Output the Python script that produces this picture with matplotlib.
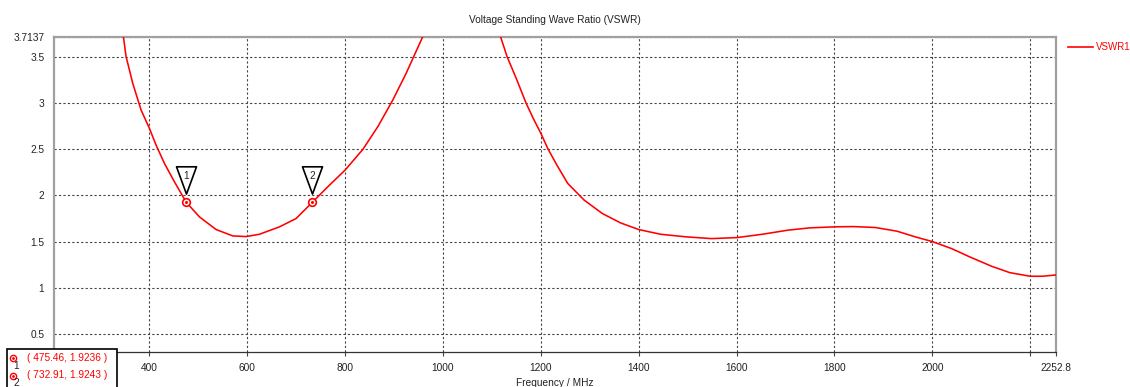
import numpy as np
import matplotlib
matplotlib.use("Agg")
import matplotlib.pyplot as plt
from matplotlib.lines import Line2D
from matplotlib.patches import Rectangle
from matplotlib.path import Path

# ── data ─────────────────────────────────────────────────────────────────────
freq_mhz = [330, 346.8, 352.3, 365.9, 383, 400, 413.6, 430.7, 451.1, 475.46,
            502.2, 536.3, 570.4, 597.6, 624.9, 665.8, 699.8, 732.91, 768, 800,
            836.1, 866.8, 897.5, 924.7, 941.7, 958.8, 975, 1035, 1100,
            1117.5, 1130.9, 1151, 1169.5, 1184.4, 1200, 1214, 1232.7, 1255,
            1288.5, 1325.7, 1362.8, 1400, 1444.6, 1496.7, 1548.7, 1600.7,
            1652.8, 1704.8, 1749.4, 1800, 1838.7, 1883.3, 1927.9, 1965, 2000,
            2039.4, 2076.6, 2121.2, 2158.4, 2200, 2225.3, 2252.8]
vswr = [4.3, 3.717, 3.5, 3.211, 2.922, 2.724, 2.543, 2.345, 2.146, 1.9236,
        1.767, 1.630, 1.561, 1.554, 1.579, 1.659, 1.749, 1.9243, 2.110, 2.273,
        2.496, 2.742, 3.031, 3.319, 3.518, 3.717, 3.95, 5.0, 3.95,
        3.717, 3.5, 3.247, 3.0, 2.832, 2.67, 2.507, 2.327, 2.128,
        1.948, 1.803, 1.702, 1.630, 1.579, 1.551, 1.532, 1.543,
        1.579, 1.623, 1.648, 1.659, 1.662, 1.652, 1.612, 1.551, 1.5,
        1.424, 1.334, 1.233, 1.164, 1.125, 1.125, 1.139]

marker_ids = ["1", "2"]
marker_freq = [475.46, 732.91]
marker_vswr = [1.9236, 1.9243]

x_ticks = [400, 600, 800, 1000, 1200, 1400, 1600, 1800, 2000, 2200, 2252.8]
x_labels = ["400", "600", "800", "1000", "1200", "1400", "1600", "1800", "2000", "", "2252.8"]
y_ticks = [0.5, 1, 1.5, 2, 2.5, 3, 3.5, 3.7137]
y_labels = ["0.5", "1", "1.5", "2", "2.5", "3", "3.5", "3.7137"]

X_MIN, X_MAX = 205, 2252.8
Y_MIN, Y_MAX = 0.306, 3.7137

FONT = "Liberation Sans"
FS = 7.3
W, H = 1130, 387

fig = plt.figure(figsize=(W / 100, H / 100), dpi=100)
ax = fig.add_axes([54 / W, 1 - 352 / H, (1056 - 54) / W, (352 - 36.8) / H])

ax.plot(freq_mhz, vswr, color="#ff0000", lw=1.15, zorder=3)
ax.set_xlim(X_MIN, X_MAX)
ax.set_ylim(Y_MIN, Y_MAX)

ax.set_xticks(x_ticks)
ax.set_xticklabels(x_labels, fontsize=FS, family=FONT, color="#222222")
ax.set_yticks(y_ticks)
ax.set_yticklabels(y_labels, fontsize=FS, family=FONT, color="#222222")
ax.tick_params(axis="x", length=3, width=0.8, color="#444444", pad=5)
ax.tick_params(axis="y", length=0, pad=7)
ax.grid(True, color="#444444", lw=0.8, linestyle=(0, (2, 2)))

for side in ["left", "top", "right"]:
    ax.spines[side].set_color("#a0a0a0")
    ax.spines[side].set_linewidth(1.6)
ax.spines["bottom"].set_color("#333333")
ax.spines["bottom"].set_linewidth(0.9)

ax.set_title("Voltage Standing Wave Ratio (VSWR)", fontsize=FS, family=FONT,
             color="#222222", pad=10)
ax.set_xlabel("Frequency / MHz", fontsize=FS, family=FONT, color="#222222",
              labelpad=3.5)

# marker flags: downward triangle sitting above the point
tri = Path([(-10, 35.7), (10, 35.7), (0, 8.4), (-10, 35.7)],
           [Path.MOVETO, Path.LINETO, Path.LINETO, Path.CLOSEPOLY])
for mid, mx, my in zip(marker_ids, marker_freq, marker_vswr):
    ax.plot(mx, my, marker="o", ms=5.5, mfc="white", mec="#ff0000", mew=1.2, zorder=5)
    ax.plot(mx, my, marker="o", ms=1.2, color="#ff0000", zorder=6)
    ax.plot(mx, my, marker=tri, ms=51.4, mfc="white", mec="black", mew=1.2, zorder=6)
    ax.annotate(mid, xy=(mx, my), xytext=(0, 26), textcoords="offset pixels",
                ha="center", va="center", fontsize=FS, family=FONT,
                color="#222222", zorder=7)

# legend at the right
fig.add_artist(Line2D([1068 / W, 1093 / W], [1 - 47.3 / H] * 2,
                      color="#ff0000", lw=1.2))
fig.text(1096 / W, 1 - 47.3 / H, "VSWR1", color="#ff0000", fontsize=7,
         family=FONT, va="center", ha="left")

# marker readout box, bottom left
fig.add_artist(Rectangle((6.7 / W, -0.02), 110 / W, (H - 349.3) / H + 0.02,
                         transform=fig.transFigure, facecolor="white",
                         edgecolor="black", lw=1.2, zorder=10))
for i, (mid, mx, my) in enumerate(zip(marker_ids, marker_freq, marker_vswr)):
    yc = 1 - (358 + 17.5 * i) / H
    fig.add_artist(Line2D([13 / W], [yc], marker="o", ms=4.5, mfc="white",
                          mec="#ff0000", mew=1.0, zorder=11))
    fig.add_artist(Line2D([13 / W], [yc], marker="o", ms=1, color="#ff0000",
                          zorder=12))
    fig.text(16 / W, yc - 8 / H, mid, fontsize=FS, family=FONT, color="#222222",
             ha="center", va="center", zorder=12)
    fig.text(27 / W, yc, f"( {mx:.2f}, {my:.4f} )", fontsize=FS, family=FONT,
             color="#ff0000", ha="left", va="center", zorder=12)

plt.savefig("out.png", dpi=100)
